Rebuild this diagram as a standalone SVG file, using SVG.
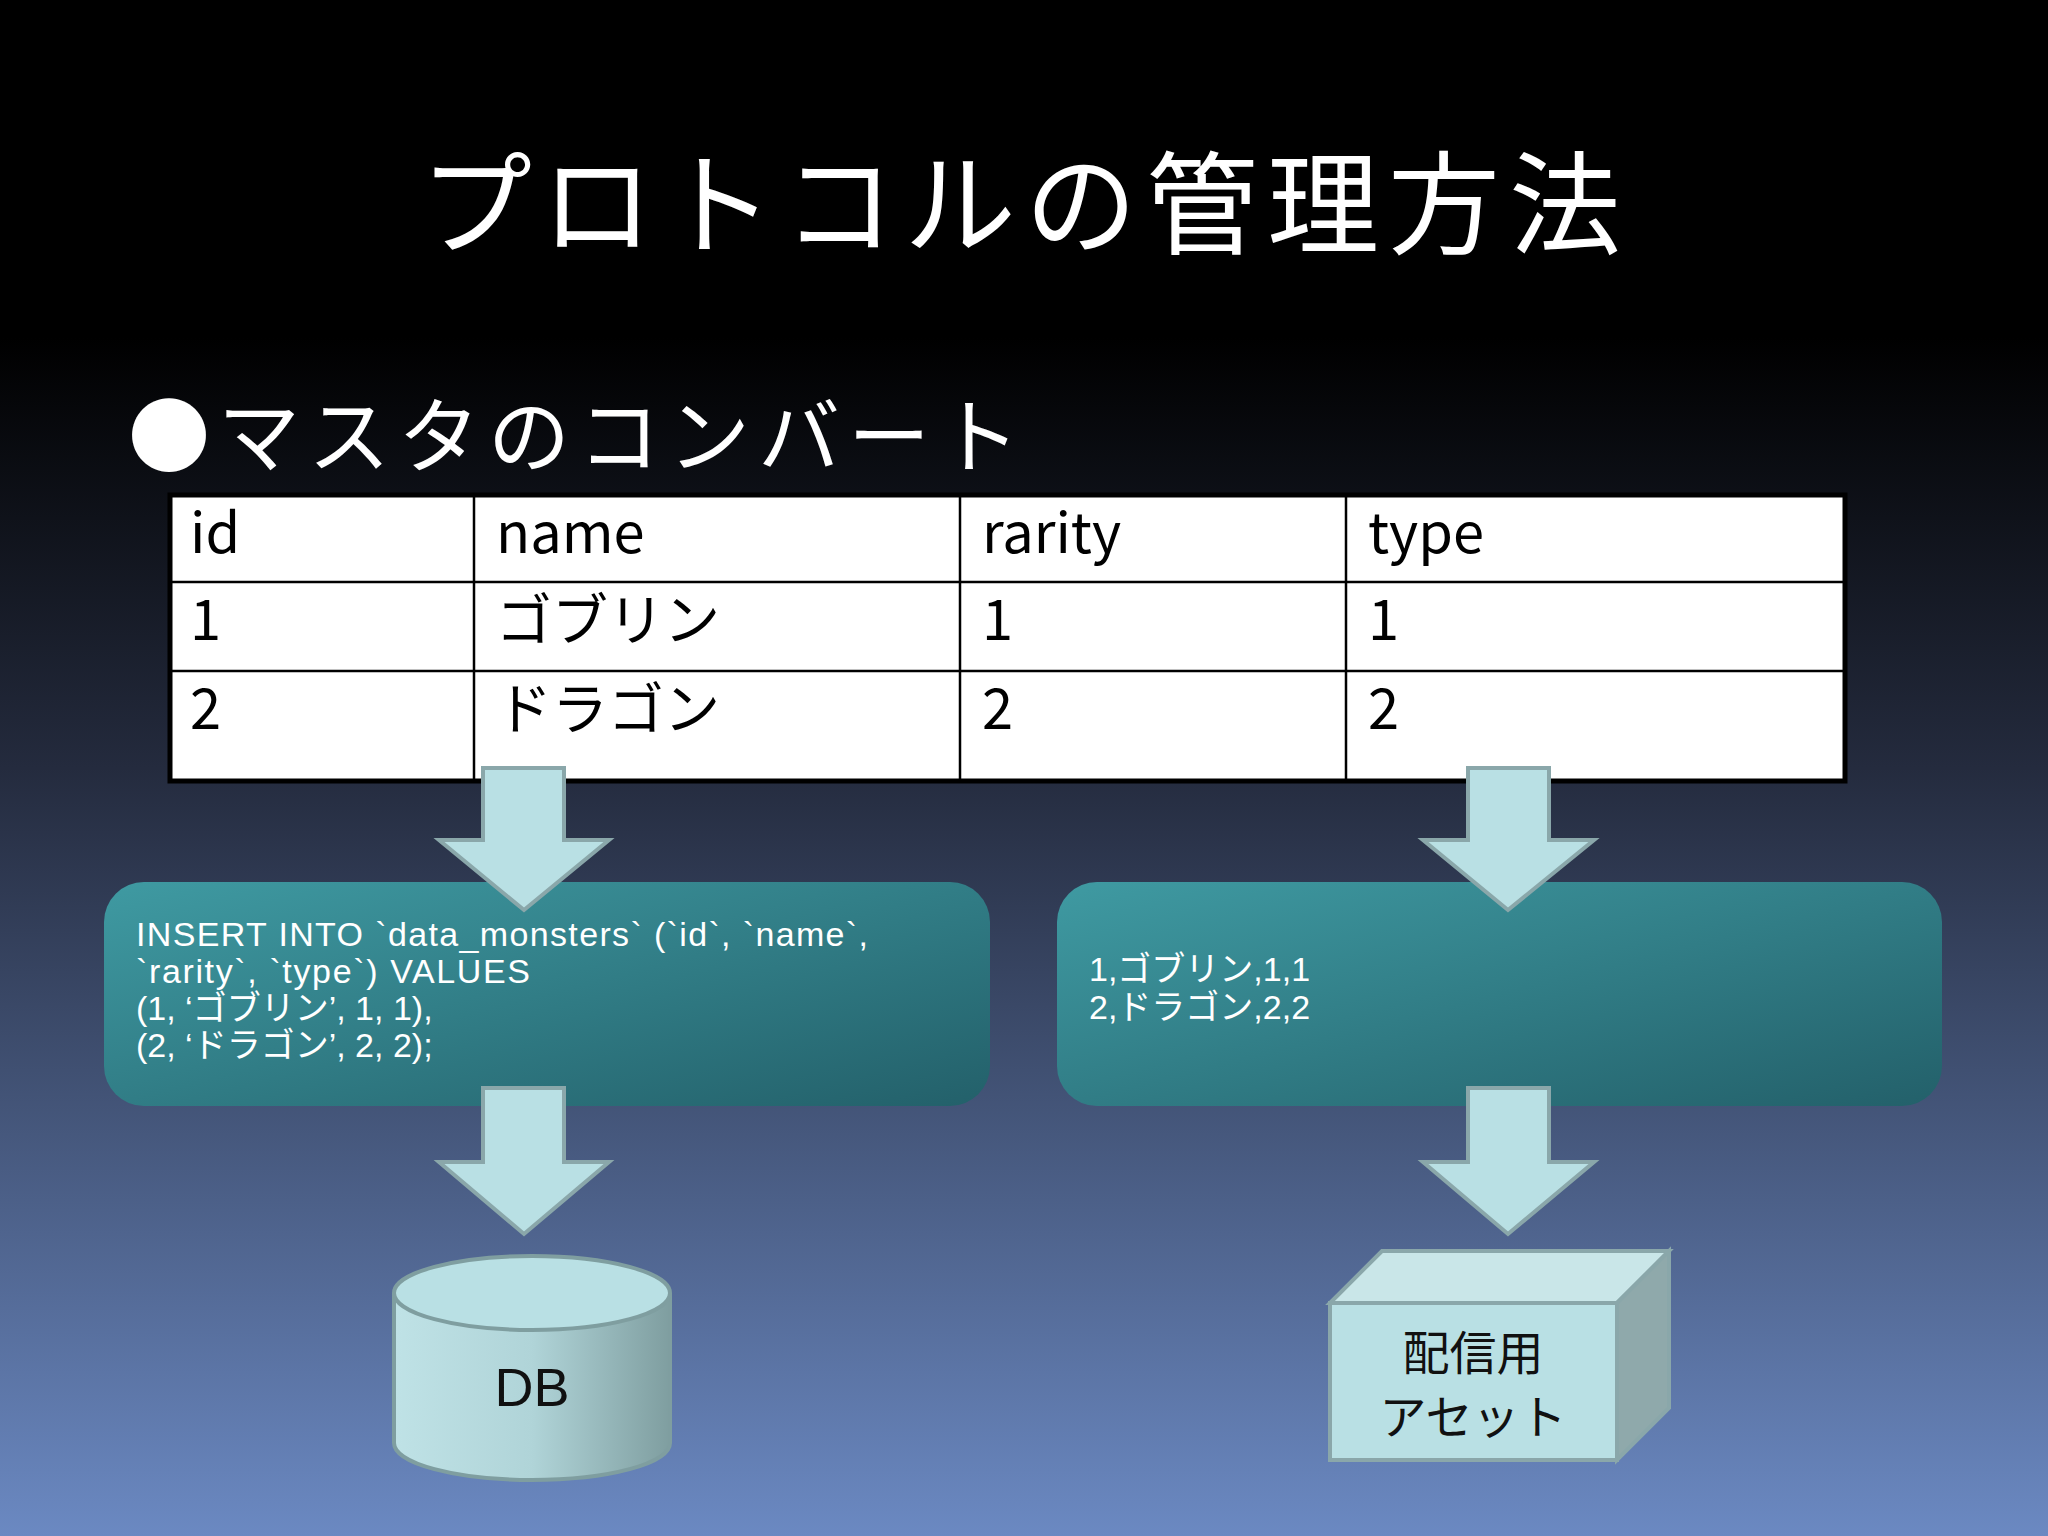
<svg xmlns="http://www.w3.org/2000/svg" width="2048" height="1536" viewBox="0 0 2048 1536">
<defs>
<linearGradient id="bg" x1="0" y1="0" x2="0" y2="1">
<stop offset="0" stop-color="#000"/><stop offset="0.22" stop-color="#000"/><stop offset="0.5" stop-color="#242b3e"/><stop offset="1" stop-color="#6b89c2"/>
</linearGradient>
<linearGradient id="tb" x1="0" y1="0" x2="1" y2="1">
<stop offset="0" stop-color="#3f9aa2"/><stop offset="1" stop-color="#23606a"/>
</linearGradient>
<linearGradient id="cyl" x1="0" y1="0" x2="1" y2="0">
<stop offset="0" stop-color="#bfe2e6"/><stop offset="0.5" stop-color="#b0d4d8"/><stop offset="1" stop-color="#7f9ea0"/>
</linearGradient>
</defs>
<style>
.t{font-family:"Noto Sans CJK JP","Liberation Sans",sans-serif;fill:#fff}
.c{font-family:"Noto Sans CJK JP","Liberation Sans",sans-serif;fill:#000;font-size:56px}
.s{font-family:"Liberation Sans","Noto Sans CJK JP",sans-serif;fill:#fff;font-size:34px}
.arr{fill:#b9e0e4;stroke:#8aa7aa;stroke-width:4}
.gl{stroke:#000;stroke-width:2.5}
</style>
<rect width="2048" height="1536" fill="url(#bg)"/>
<text class="t" x="1025" y="246" font-size="112" text-anchor="middle" letter-spacing="9">プロトコルの管理方法</text>
<text class="t" x="128" y="466" font-size="82" letter-spacing="8">●マスタのコンバート</text>
<g id="table">
<rect x="170" y="495" width="1675" height="286" fill="#fff" stroke="#000" stroke-width="5"/>
<line class="gl" x1="170" y1="582" x2="1845" y2="582"/><line class="gl" x1="170" y1="671" x2="1845" y2="671"/>
<line class="gl" x1="474" y1="495" x2="474" y2="781"/><line class="gl" x1="960" y1="495" x2="960" y2="781"/><line class="gl" x1="1346" y1="495" x2="1346" y2="781"/>
<text class="c" x="190" y="553">id</text><text class="c" x="496" y="553">name</text><text class="c" x="982" y="553">rarity</text><text class="c" x="1368" y="553">type</text>
<text class="c" x="190" y="640">1</text><text class="c" x="496" y="640">ゴブリン</text><text class="c" x="982" y="640">1</text><text class="c" x="1368" y="640">1</text>
<text class="c" x="190" y="729">2</text><text class="c" x="496" y="729">ドラゴン</text><text class="c" x="982" y="729">2</text><text class="c" x="1368" y="729">2</text>
</g>
<g id="sql">
<rect x="104" y="882" width="886" height="224" rx="40" fill="url(#tb)"/>
<text class="s" x="136" y="946" textLength="732">INSERT INTO `data_monsters` (`id`, `name`,</text>
<text class="s" x="136" y="983" textLength="394">`rarity`, `type`) VALUES</text>
<text class="s" x="136" y="1020">(1, ‘ゴブリン’, 1, 1),</text>
<text class="s" x="136" y="1057">(2, ‘ドラゴン’, 2, 2);</text>
</g>
<g id="csv">
<rect x="1057" y="882" width="885" height="224" rx="40" fill="url(#tb)"/>
<text class="s" x="1089" y="981">1,ゴブリン,1,1</text>
<text class="s" x="1089" y="1019">2,ドラゴン,2,2</text>
</g>
<g id="db">
<path d="M394 1293 V1443 A138 37 0 0 0 670 1443 V1293" fill="url(#cyl)" stroke="#7f9ea0" stroke-width="4"/>
<ellipse cx="532" cy="1293" rx="138" ry="37" fill="#b9e0e4" stroke="#7f9ea0" stroke-width="4"/>
<text x="532" y="1406" font-family="Liberation Sans,sans-serif" font-size="54" text-anchor="middle" fill="#111">DB</text>
</g>
<g id="asset">
<polygon points="1330,1303 1382,1251 1669,1251 1617,1303" fill="#c9e6e8" stroke="#8aa7aa" stroke-width="4"/>
<polygon points="1617,1303 1669,1251 1669,1408 1617,1460" fill="#8fa9ab" stroke="#8aa7aa" stroke-width="4"/>
<rect x="1330" y="1303" width="287" height="157" fill="#b9e0e4" stroke="#8aa7aa" stroke-width="4"/>
<text x="1473" y="1370" font-family="Noto Sans CJK JP,sans-serif" font-size="47" text-anchor="middle" fill="#111">配信用</text>
<text x="1473" y="1434" font-family="Noto Sans CJK JP,sans-serif" font-size="47" text-anchor="middle" fill="#111">アセット</text>
</g>
<g id="connectors">
<polygon class="arr" points="483,768 564,768 564,840 609,840 524,910 439,840 483,840"/>
<polygon class="arr" points="1468,768 1549,768 1549,840 1594,840 1508,910 1423,840 1468,840"/>
<polygon class="arr" points="483,1088 564,1088 564,1162 609,1162 524,1234 439,1162 483,1162"/>
<polygon class="arr" points="1468,1088 1549,1088 1549,1162 1594,1162 1508,1234 1423,1162 1468,1162"/>
</g>
</svg>
